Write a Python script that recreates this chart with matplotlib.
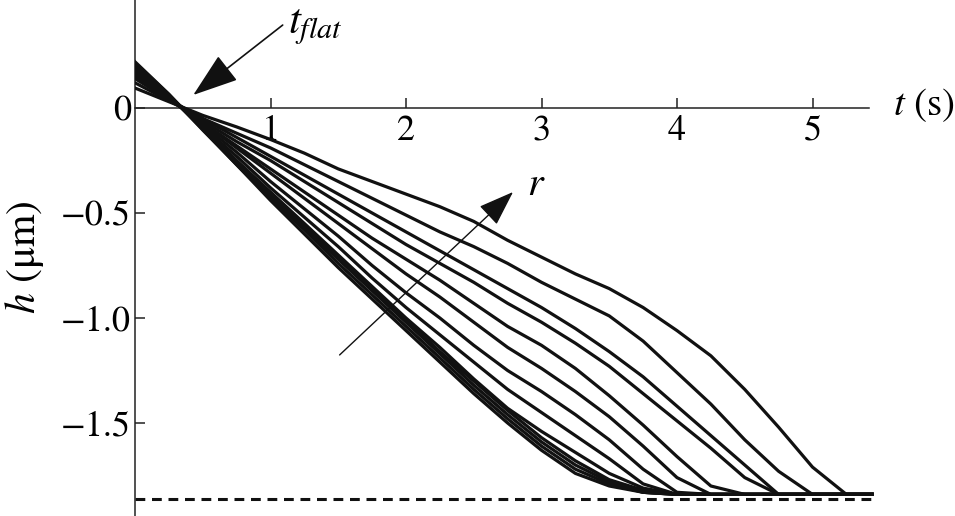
import matplotlib
matplotlib.use("Agg")
import matplotlib.pyplot as plt

# time grid (s) shared by all curves
T = [0, 0.25, 0.5, 0.75, 1.0, 1.25, 1.5, 1.75, 2.0, 2.25, 2.5, 2.75,
     3.0, 3.25, 3.5, 3.75, 4.0, 4.25, 4.5, 4.75, 5.0, 5.25, 5.44]

# film thickness h (um), one curve per radius, slowest (largest r) first
h_r13 = [0.095, 0.03, -0.035, -0.09, -0.15, -0.215, -0.29, -0.35, -0.41, -0.47, -0.54, -0.63,
         -0.71, -0.79, -0.86, -0.95, -1.06, -1.18, -1.34, -1.52, -1.71, -1.84, -1.84]
h_r12 = [0.12, 0.035, -0.05, -0.12, -0.19, -0.27, -0.35, -0.43, -0.51, -0.59, -0.66, -0.74,
         -0.83, -0.91, -0.99, -1.11, -1.26, -1.41, -1.58, -1.73, -1.84, -1.84, -1.84]
h_r11 = [0.14, 0.04, -0.05, -0.14, -0.23, -0.32, -0.41, -0.50, -0.59, -0.68, -0.77, -0.86,
         -0.95, -1.05, -1.16, -1.28, -1.42, -1.56, -1.70, -1.84, -1.84, -1.84, -1.84]
h_r10 = [0.15, 0.04, -0.06, -0.16, -0.25, -0.35, -0.45, -0.55, -0.65, -0.74, -0.83, -0.93,
         -1.02, -1.12, -1.23, -1.36, -1.49, -1.62, -1.76, -1.84, -1.84, -1.84, -1.84]
h_r9 = [0.16, 0.045, -0.07, -0.18, -0.29, -0.40, -0.51, -0.62, -0.72, -0.82, -0.93, -1.04,
        -1.13, -1.24, -1.37, -1.51, -1.66, -1.80, -1.84, -1.84, -1.84, -1.84, -1.84]
h_r8 = [0.17, 0.05, -0.07, -0.19, -0.31, -0.43, -0.55, -0.67, -0.79, -0.90, -1.02, -1.14,
        -1.24, -1.35, -1.47, -1.61, -1.76, -1.84, -1.84, -1.84, -1.84, -1.84, -1.84]
h_r7 = [0.18, 0.05, -0.08, -0.21, -0.35, -0.48, -0.61, -0.75, -0.88, -1.00, -1.13, -1.25,
        -1.35, -1.46, -1.58, -1.72, -1.83, -1.84, -1.84, -1.84, -1.84, -1.84, -1.84]
h_r6 = [0.19, 0.055, -0.09, -0.23, -0.38, -0.52, -0.66, -0.81, -0.95, -1.08, -1.21, -1.34,
        -1.45, -1.56, -1.67, -1.79, -1.84, -1.84, -1.84, -1.84, -1.84, -1.84, -1.84]
h_r5 = [0.20, 0.06, -0.095, -0.25, -0.40, -0.55, -0.70, -0.85, -1.00, -1.14, -1.29, -1.43,
        -1.54, -1.64, -1.74, -1.81, -1.84, -1.84, -1.84, -1.84, -1.84, -1.84, -1.84]
h_r4 = [0.205, 0.06, -0.10, -0.26, -0.41, -0.56, -0.71, -0.86, -1.01, -1.16, -1.30, -1.44,
        -1.57, -1.68, -1.77, -1.82, -1.84, -1.84, -1.84, -1.84, -1.84, -1.84, -1.84]
h_r3 = [0.21, 0.062, -0.10, -0.26, -0.42, -0.57, -0.72, -0.87, -1.02, -1.17, -1.32, -1.46,
        -1.59, -1.70, -1.78, -1.83, -1.84, -1.84, -1.84, -1.84, -1.84, -1.84, -1.84]
h_r2 = [0.215, 0.064, -0.10, -0.27, -0.43, -0.58, -0.74, -0.89, -1.04, -1.19, -1.34, -1.48,
        -1.61, -1.72, -1.79, -1.83, -1.84, -1.84, -1.84, -1.84, -1.84, -1.84, -1.84]
h_r1 = [0.22, 0.066, -0.105, -0.27, -0.44, -0.60, -0.76, -0.91, -1.06, -1.21, -1.36, -1.50,
        -1.63, -1.74, -1.80, -1.83, -1.84, -1.84, -1.84, -1.84, -1.84, -1.84, -1.84]

H_FINAL = -1.86          # dashed asymptote
T_MAX = 5.5
X_TICKS = [1, 2, 3, 4, 5]
Y_TICKS = [0, -0.5, -1.0, -1.5]
Y_TICKLABELS = ["0", "\u22120.5", "\u22121.0", "\u22121.5"]

plt.rcParams["font.family"] = ["STIXGeneral", "DejaVu Serif"]
plt.rcParams["mathtext.fontset"] = "stix"

W, H = 955, 516
fig = plt.figure(figsize=(W / 100, H / 100), dpi=100)
ax = fig.add_axes([135 / W, 0, 742 / W, 1])
ax.set_xlim(0, 742 / 135.5)
ax.set_ylim(-(516 - 108) / 210, 108 / 210)

curves = [h_r1, h_r2, h_r3, h_r4, h_r5, h_r6, h_r7, h_r8, h_r9, h_r10, h_r11, h_r12, h_r13]
for hh in curves:
    ax.plot(T, hh, color="#111111", lw=2.3, solid_joinstyle="round", zorder=3)

ax.plot([0, T_MAX], [H_FINAL, H_FINAL], color="#111111", lw=2.2,
        dashes=(3.2, 2.2), zorder=2)

for s in ("top", "right"):
    ax.spines[s].set_visible(False)
ax.spines["bottom"].set_position(("data", 0))
ax.spines["bottom"].set_bounds(0, 5.42)
for s in ("left", "bottom"):
    ax.spines[s].set_linewidth(1.1)
    ax.spines[s].set_color("#222222")

ax.set_xticks(X_TICKS)
ax.set_xticklabels([str(v) for v in X_TICKS])
ax.set_yticks(Y_TICKS)
ax.set_yticklabels(Y_TICKLABELS)
ax.tick_params(axis="both", direction="in", length=7, width=1.1, labelsize=26,
               color="#222222")
ax.tick_params(axis="x", pad=5)
ax.tick_params(axis="y", pad=3)

fig.text(893 / W, 1 - 105 / H, "$t$ (s)", fontsize=28, ha="left", va="center")
fig.text(25 / W, 1 - 257 / H, "$h$ (\u03bcm)", fontsize=30, rotation=90,
         ha="center", va="center")

# t_flat arrow
ax.annotate("", xy=(0.43, 0.062), xytext=(1.09, 0.395),
            arrowprops=dict(arrowstyle="-|>,head_length=1.6,head_width=0.55",
                            mutation_scale=18, color="#111111", lw=1.2,
                            shrinkA=0, shrinkB=0))
ax.text(1.13, 0.385, r"$t_{flat}$", fontsize=31, ha="left", va="center")

# r arrow
ax.annotate("", xy=(2.79, -0.40), xytext=(1.51, -1.176),
            arrowprops=dict(arrowstyle="-|>,head_length=1.4,head_width=0.5",
                            mutation_scale=16, color="#111111", lw=1.0,
                            shrinkA=0, shrinkB=0))
ax.text(2.96, -0.367, r"$r$", fontsize=29, ha="center", va="center")

fig.savefig("out.png", dpi=100)
